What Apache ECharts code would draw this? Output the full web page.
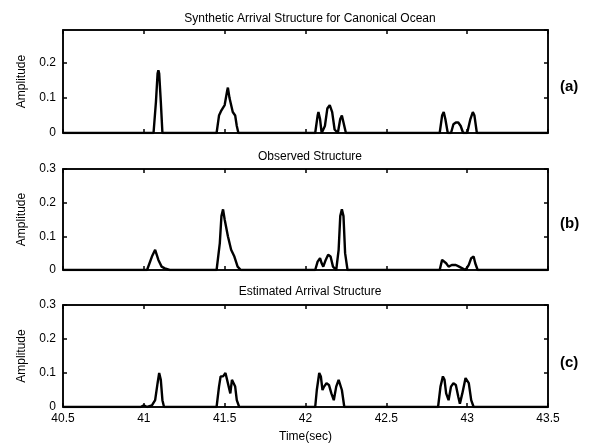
<!DOCTYPE html>
<html>
<head>
<meta charset="utf-8">
<script src="https://cdn.jsdelivr.net/npm/echarts@6/dist/echarts.min.js"></script>
<style>html,body{margin:0;padding:0;background:#fff}#c{width:589px;height:448px}</style>
</head>
<body>
<div id="c"></div>
<script>
// ---- data (time in seconds, amplitude) ----
const xTicks = [40.5, 41, 41.5, 42, 42.5, 43, 43.5];
const titles = ['Synthetic Arrival Structure for Canonical Ocean', 'Observed Structure', 'Estimated Arrival Structure'];
const panelTags = ['(a)', '(b)', '(c)'];
const yMax = [0.295, 0.3, 0.3];

const synthetic = [
  [40.5,0],[41.06,0],[41.075,0.09],[41.085,0.17],[41.09,0.18],[41.095,0.17],[41.105,0.09],[41.115,0],
  [41.45,0],[41.465,0.05],[41.48,0.065],[41.5,0.08],[41.515,0.12],[41.52,0.13],[41.53,0.1],[41.55,0.06],[41.565,0.05],[41.575,0.02],[41.585,0],
  [42.06,0],[42.075,0.05],[42.08,0.06],[42.09,0.04],[42.1,0],[42.12,0.02],[42.135,0.07],[42.15,0.08],[42.165,0.06],[42.18,0.01],[42.2,0],[42.215,0.04],[42.225,0.05],[42.235,0.03],[42.25,0],
  [42.83,0],[42.845,0.05],[42.855,0.06],[42.865,0.04],[42.88,0],[42.9,0],[42.915,0.025],[42.93,0.03],[42.945,0.03],[42.96,0.02],[42.975,0],[43.0,0],[43.02,0.04],[43.035,0.06],[43.045,0.05],[43.06,0],[43.5,0]
];
const observed = [
  [40.5,0],[41.02,0],[41.05,0.04],[41.07,0.06],[41.09,0.03],[41.11,0.01],[41.13,0.005],[41.16,0],
  [41.45,0],[41.47,0.08],[41.48,0.16],[41.49,0.18],[41.5,0.15],[41.52,0.1],[41.54,0.06],[41.56,0.04],[41.57,0.035],[41.58,0.01],[41.6,0],
  [42.06,0],[42.075,0.025],[42.09,0.035],[42.1,0.02],[42.11,0.01],[42.125,0.03],[42.14,0.045],[42.155,0.04],[42.17,0.01],[42.19,0],[42.205,0.06],[42.215,0.16],[42.225,0.18],[42.235,0.16],[42.245,0.05],[42.26,0],
  [42.83,0],[42.845,0.03],[42.855,0.035],[42.87,0.02],[42.885,0.01],[42.905,0.015],[42.93,0.015],[42.95,0.01],[42.97,0.005],[42.99,0],[43.01,0.015],[43.025,0.035],[43.04,0.04],[43.05,0.02],[43.065,0],[43.5,0]
];
const estimated = [
  [40.5,0],[40.98,0],[41.0,0.005],[41.02,0],[41.05,0.005],[41.07,0.02],[41.085,0.07],[41.095,0.1],[41.105,0.08],[41.115,0.02],[41.125,0],
  [41.45,0],[41.465,0.06],[41.475,0.09],[41.49,0.09],[41.505,0.1],[41.515,0.1],[41.525,0.06],[41.535,0.04],[41.545,0.08],[41.555,0.085],[41.565,0.06],[41.575,0.02],[41.59,0],
  [42.06,0],[42.07,0.05],[42.085,0.1],[42.095,0.09],[42.105,0.05],[42.115,0.06],[42.13,0.07],[42.145,0.065],[42.16,0.04],[42.175,0.02],[42.19,0.06],[42.205,0.08],[42.215,0.075],[42.225,0.05],[42.24,0],
  [42.82,0],[42.835,0.06],[42.85,0.09],[42.86,0.08],[42.87,0.04],[42.885,0.02],[42.9,0.06],[42.915,0.07],[42.93,0.065],[42.945,0.03],[42.955,0.01],[42.97,0.04],[42.99,0.085],[43.0,0.09],[43.01,0.07],[43.025,0.02],[43.04,0],[43.5,0]
];
const panels = [synthetic, observed, estimated];

// ---- layout ----
const FONT = '"Liberation Sans", Arial, sans-serif';
const grids = [
  {left: 63, right: 41, top: 30, height: 103, show: true, borderColor: '#000', borderWidth: 1.5, backgroundColor: 'transparent'},
  {left: 63, right: 41, top: 169, height: 101, show: true, borderColor: '#000', borderWidth: 1.5, backgroundColor: 'transparent'},
  {left: 63, right: 41, top: 305, height: 102, show: true, borderColor: '#000', borderWidth: 1.5, backgroundColor: 'transparent'}
];
const titleY = [8, 146, 281];
const tagY = [74, 211, 350];

const xAxes = [], yAxes = [], series = [], titleArr = [];
const lineStyle = {color: '#000', width: 1.5};
for (let i = 0; i < 3; i++) {
  const bottom = i === 2;
  xAxes.push({
    type: 'value', gridIndex: i, min: 40.5, max: 43.5, interval: 0.5, position: 'bottom',
    axisLine: {show: true, onZero: false, lineStyle}, axisTick: {show: true, inside: true, length: 4, lineStyle},
    splitLine: {show: false},
    axisLabel: {show: bottom, color: '#000', fontFamily: FONT, fontSize: 12, margin: 6,
      formatter: v => { const t = xTicks.find(t => Math.abs(t - v) < 1e-6); return t === undefined ? '' : String(t); }},
    name: bottom ? 'Time(sec)' : '', nameLocation: 'middle', nameGap: 24,
    nameTextStyle: {color: '#000', fontFamily: FONT, fontSize: 12}
  });
  xAxes.push({
    type: 'value', gridIndex: i, min: 40.5, max: 43.5, interval: 0.5, position: 'top',
    axisLine: {show: true, onZero: false, lineStyle}, axisTick: {show: true, inside: true, length: 4, lineStyle},
    splitLine: {show: false}, axisLabel: {show: false}
  });
  yAxes.push({
    type: 'value', gridIndex: i, min: 0, max: yMax[i], interval: 0.1, position: 'left',
    axisLine: {show: true, onZero: false, lineStyle}, axisTick: {show: true, inside: true, length: 4, lineStyle},
    splitLine: {show: false},
    axisLabel: {color: '#000', fontFamily: FONT, fontSize: 12, margin: 7, showMaxLabel: i !== 0,
      formatter: v => Math.abs(v * 10 - Math.round(v * 10)) < 1e-6 ? String(Math.round(v * 10) / 10) : ''},
    name: 'Amplitude', nameLocation: 'middle', nameGap: 35, nameRotate: 90,
    nameTextStyle: {color: '#000', fontFamily: FONT, fontSize: 12}
  });
  yAxes.push({
    type: 'value', gridIndex: i, min: 0, max: yMax[i], interval: 0.1, position: 'right',
    axisLine: {show: true, onZero: false, lineStyle}, axisTick: {show: true, inside: true, length: 4, lineStyle},
    splitLine: {show: false}, axisLabel: {show: false}
  });
  series.push({
    type: 'line', xAxisIndex: 2 * i, yAxisIndex: 2 * i, data: panels[i],
    showSymbol: false, symbol: 'none', lineStyle: {color: '#000', width: 2.4}, silent: true, animation: false
  });
  titleArr.push({
    text: titles[i], left: 305, top: titleY[i], textAlign: 'center',
    textStyle: {color: '#000', fontFamily: FONT, fontSize: 12, fontWeight: 'normal'}
  });
  titleArr.push({
    text: panelTags[i], left: 555, top: tagY[i],
    textStyle: {color: '#000', fontFamily: FONT, fontSize: 15, fontWeight: 'bold'}
  });
}

const chart = echarts.init(document.getElementById('c'), null, {renderer: 'canvas'});
chart.setOption({
  animation: false,
  backgroundColor: '#fff',
  title: titleArr,
  grid: grids,
  xAxis: xAxes,
  yAxis: yAxes,
  series: series
});
</script>
</body>
</html>
